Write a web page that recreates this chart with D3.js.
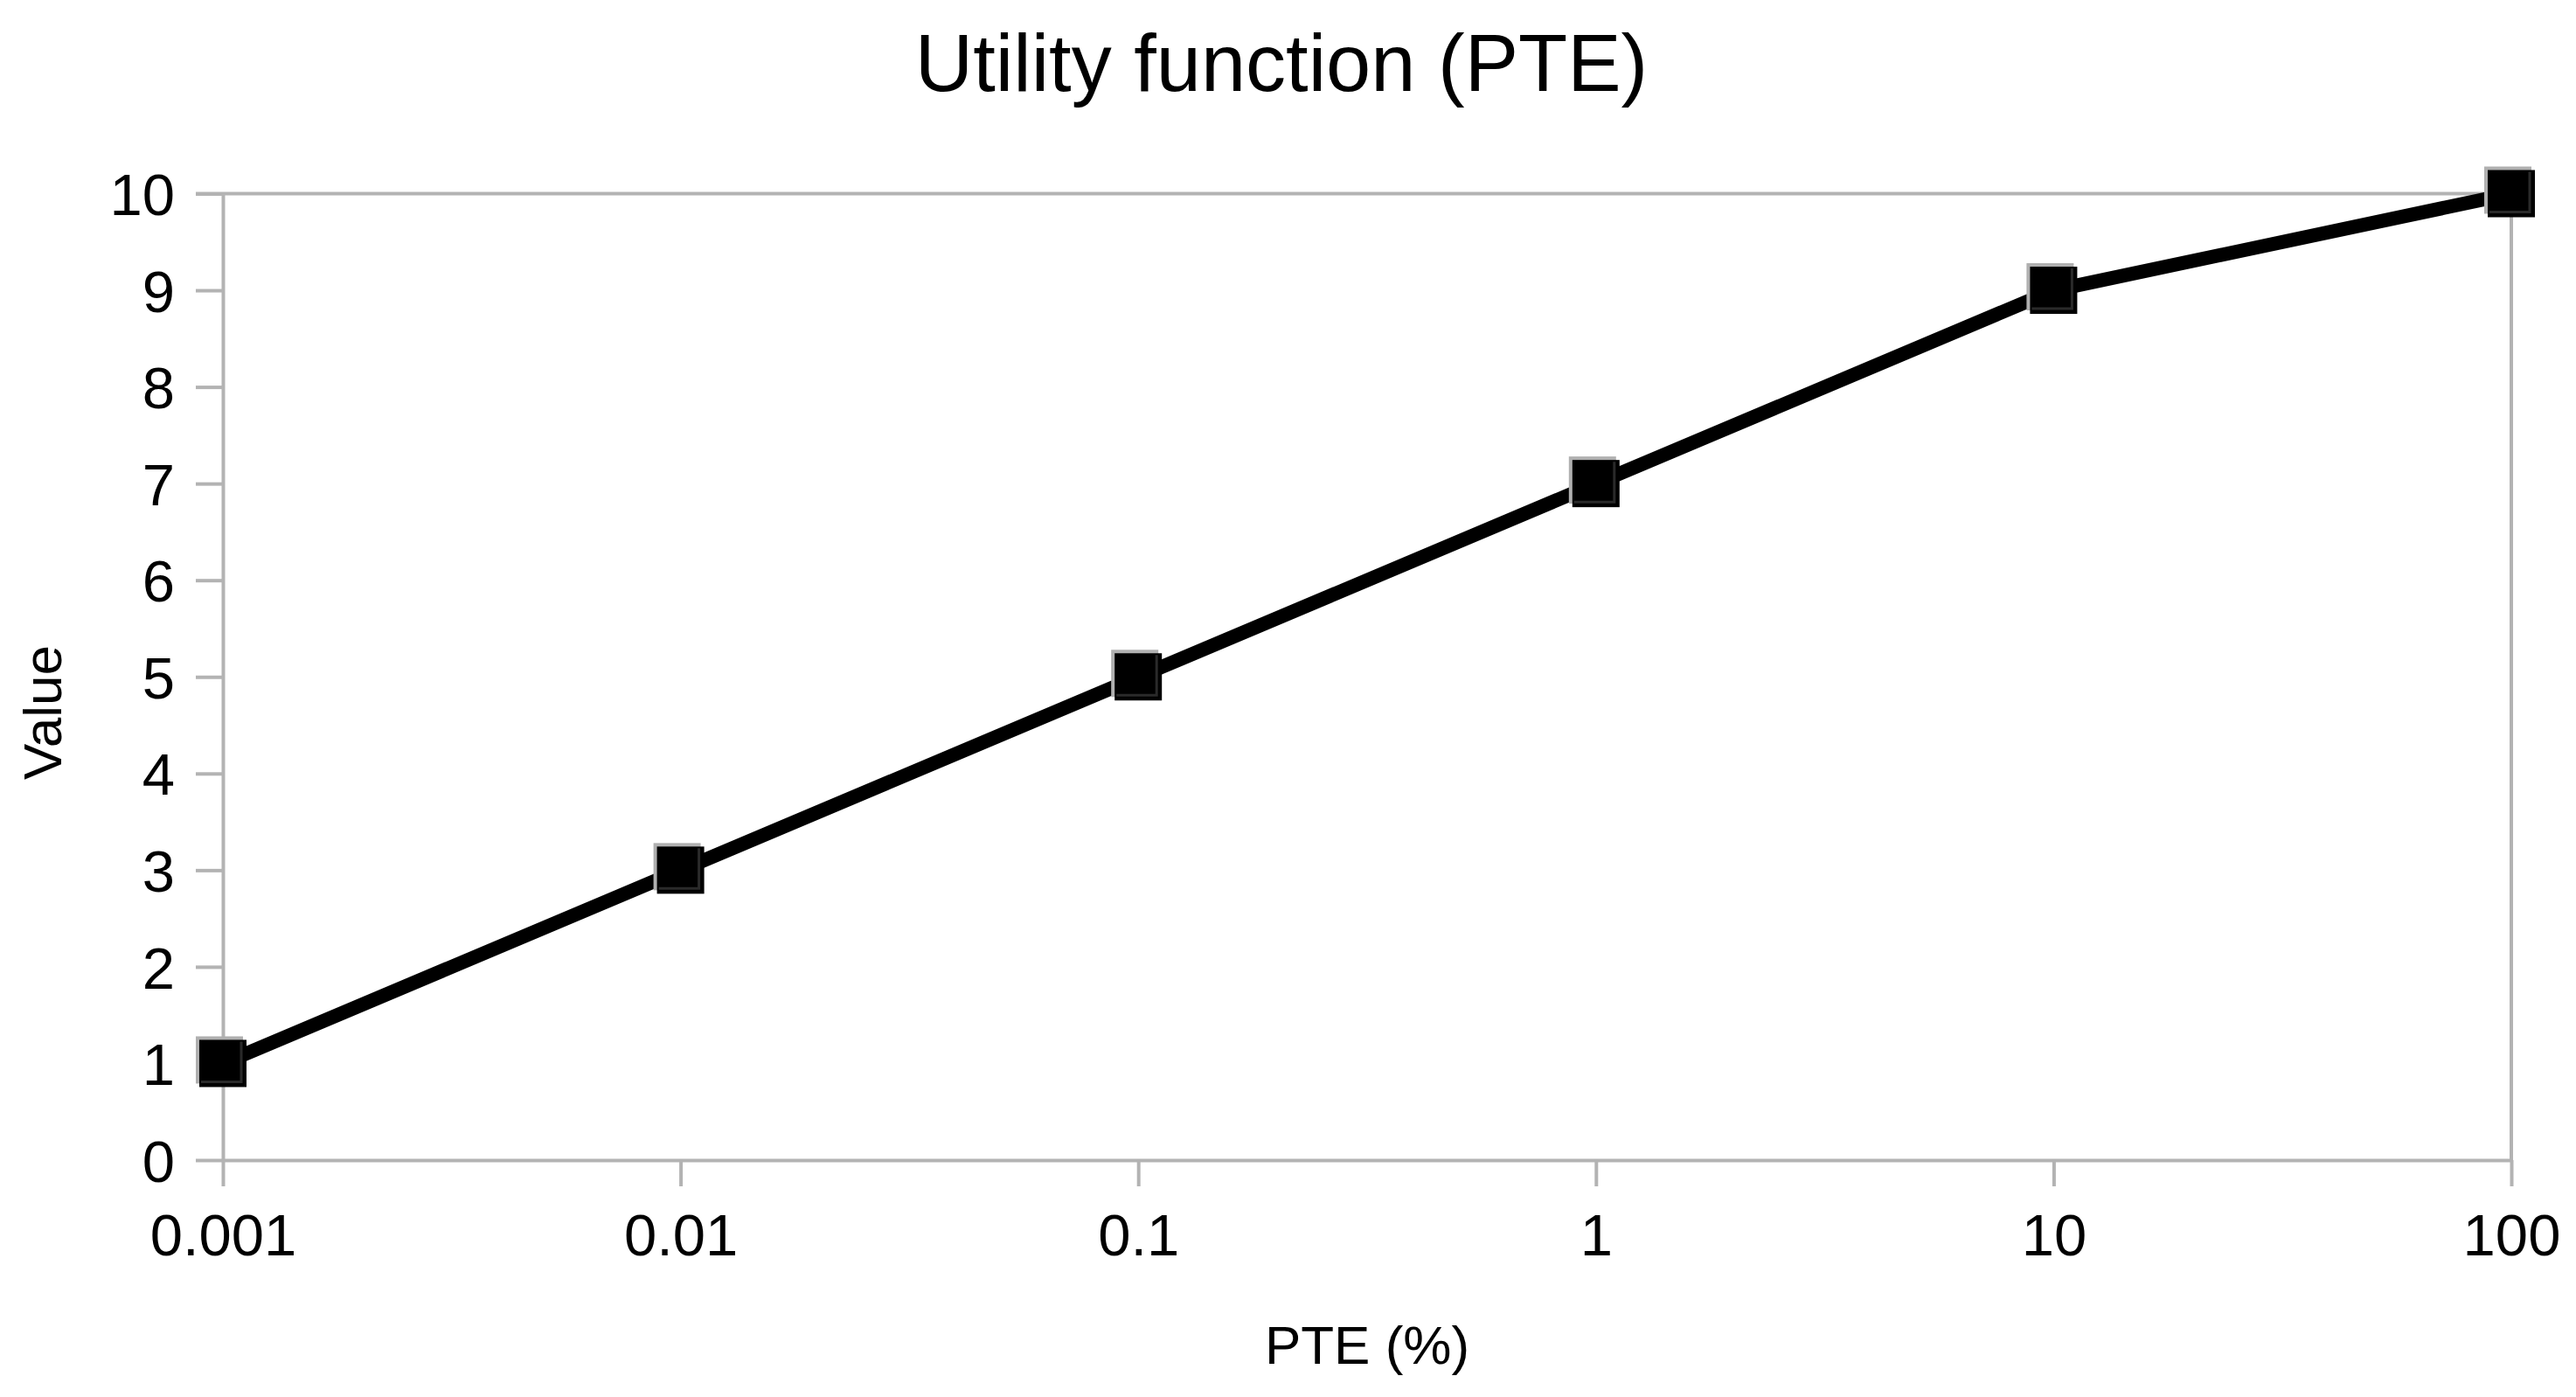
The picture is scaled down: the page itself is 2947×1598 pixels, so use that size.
<!DOCTYPE html>
<html lang="en">
<head>
    <meta charset="UTF-8">
    <title>Utility function (PTE)</title>
    <style>
        body { margin: 0; background: #fff; }
        svg { display: block; font-family: "Liberation Sans", Arial, sans-serif; }
        .axis path, .axis line { stroke: #b3b3b3; stroke-width: 4; }
        .axis text { fill: #000; }
    </style>
</head>
<body>
    <script src="https://d3js.org/d3.v7.min.js"></script>
    <script>
        // data
        const pteValues = [0.001, 0.01, 0.1, 1, 10, 100];
        const utilityValues = [1, 3, 5, 7, 9, 10];
        const xTickValues = [0.001, 0.01, 0.1, 1, 10, 100];
        const xTickLabels = ["0.001", "0.01", "0.1", "1", "10", "100"];
        const yTickValues = [0, 1, 2, 3, 4, 5, 6, 7, 8, 9, 10];

        const w = 2947, h = 1598;
        const padLeft = 255, padRight = 2873, padTop = 221.5, padBottom = 1327;

        const x = d3.scaleLog().domain([0.001, 100]).range([padLeft, padRight]);
        const y = d3.scaleLinear().domain([0, 10]).range([padBottom, padTop]);

        const svg = d3.select("body").append("svg")
            .attr("width", w)
            .attr("height", h);

        svg.append("rect").attr("width", w).attr("height", h).attr("fill", "#fff");

        // top and right frame lines
        svg.append("line")
            .attr("x1", padLeft - 31).attr("x2", padRight)
            .attr("y1", y(10)).attr("y2", y(10))
            .attr("stroke", "#b3b3b3").attr("stroke-width", 4);
        svg.append("line")
            .attr("x1", x(100)).attr("x2", x(100))
            .attr("y1", y(10)).attr("y2", padBottom)
            .attr("stroke", "#b3b3b3").attr("stroke-width", 4);

        const yAxis = d3.axisLeft(y)
            .tickValues(yTickValues)
            .tickSize(31)
            .tickSizeOuter(0)
            .tickPadding(24)
            .tickFormat(d3.format("d"));
        svg.append("g").attr("class", "axis")
            .attr("transform", "translate(" + padLeft + ",0)")
            .call(yAxis)
            .call(g => g.selectAll("text").attr("font-size", 67).attr("dy", "0.36em"));

        const xAxis = d3.axisBottom(x)
            .tickValues(xTickValues)
            .tickSize(30)
            .tickSizeOuter(0)
            .tickPadding(31)
            .tickFormat((d, i) => xTickLabels[i]);
        svg.append("g").attr("class", "axis")
            .attr("transform", "translate(0," + padBottom + ")")
            .call(xAxis)
            .call(g => g.selectAll("text").attr("font-size", 67));

        const pts = pteValues.map((d, i) => [d, utilityValues[i]]);

        const line = d3.line()
            .x(d => x(d[0]))
            .y(d => y(d[1]));

        svg.append("path")
            .datum(pts)
            .attr("d", line)
            .attr("fill", "none")
            .attr("stroke", "#000")
            .attr("stroke-width", 16)
            .attr("stroke-linejoin", "round");

        const s = 54;
        const marks = svg.append("g").selectAll("g")
            .data(pts)
            .enter()
            .append("g")
            .attr("transform", d => "translate(" + x(d[0]) + "," + y(d[1]) + ")");
        marks.append("rect")
            .attr("x", -s / 2 - 4).attr("y", -s / 2 - 4)
            .attr("width", s).attr("height", s)
            .attr("fill", "#b0b0b0");
        marks.append("rect")
            .attr("x", -s / 2).attr("y", -s / 2)
            .attr("width", s).attr("height", s)
            .attr("fill", "#000");
        marks.append("path")
            .attr("d", "M" + (-s / 2 + 2) + "," + (s / 2 - 6) + "H" + (s / 2 - 6) + "V" + (-s / 2 + 2))
            .attr("fill", "none")
            .attr("stroke", "#3c3c3c")
            .attr("stroke-width", 3)
            .attr("stroke-opacity", 0.7);

        svg.append("text")
            .attr("x", 1466).attr("y", 104)
            .attr("text-anchor", "middle")
            .attr("font-size", 92)
            .text("Utility function (PTE)");

        svg.append("text")
            .attr("x", (padLeft + padRight) / 2).attr("y", 1560)
            .attr("text-anchor", "middle")
            .attr("font-size", 62)
            .text("PTE (%)");

        svg.append("text")
            .attr("transform", "translate(70,815) rotate(-90)")
            .attr("text-anchor", "middle")
            .attr("font-size", 62)
            .text("Value");
    </script>
</body>
</html>
